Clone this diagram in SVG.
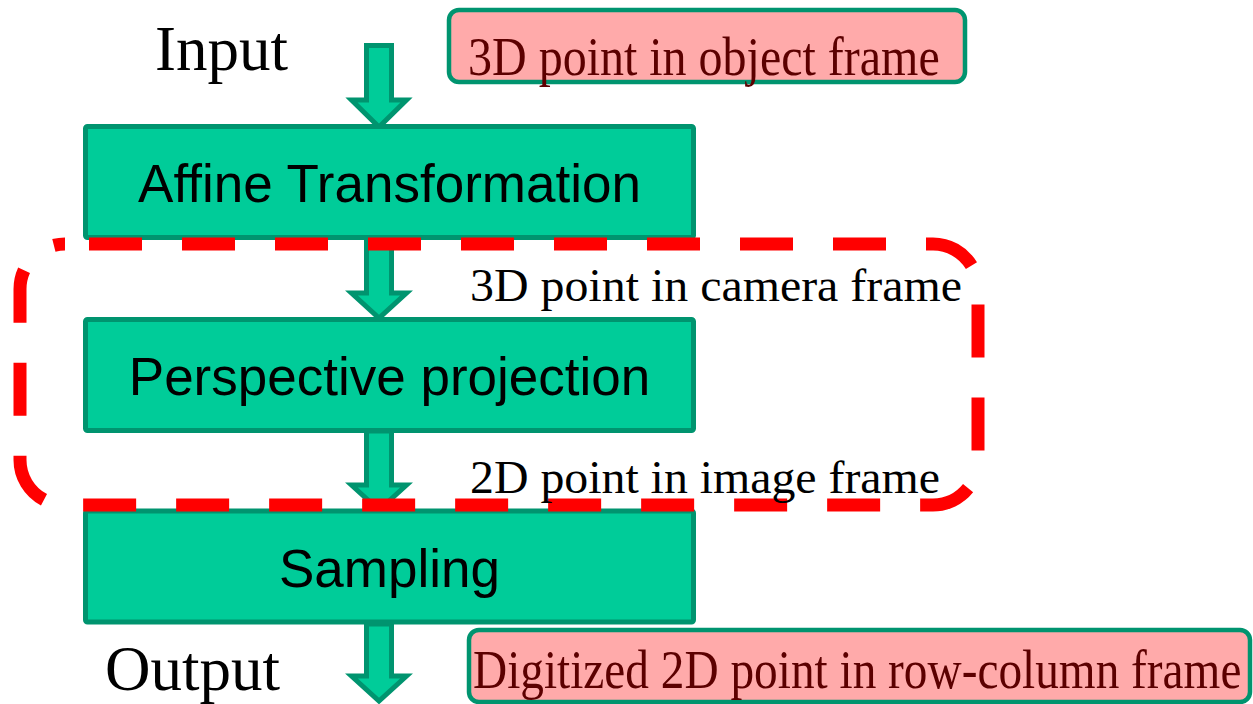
<svg xmlns="http://www.w3.org/2000/svg" width="1253" height="704" viewBox="0 0 1253 704">
  <style>
    .stage { fill: #00cc99; stroke: #00946f; stroke-width: 5; }
    .flow { fill: #00cc99; stroke: #00946f; stroke-width: 5; stroke-linejoin: miter; }
    .stage-label { font-family: "Liberation Sans", Arial, sans-serif; font-size: 53px; fill: #000; text-anchor: middle; }
    .io { font-family: "Liberation Serif", "Times New Roman", serif; font-size: 63px; fill: #000; }
    .note { fill: #ffaaaa; stroke: #00946f; stroke-width: 4.5; }
    .note-text { font-family: "Liberation Serif", "Times New Roman", serif; font-size: 56px; fill: #5c0000; }
    .frame-text { font-family: "Liberation Serif", "Times New Roman", serif; font-size: 47px; fill: #000; }
    .region { fill: none; stroke: #ff0000; stroke-width: 13; stroke-dasharray: 53 40; stroke-dashoffset: 69; }
  </style>

  <!-- block arrows between stages -->
  <g id="connectors">
    <polygon class="flow" points="366.5,45.5 391.5,45.5 391.5,100 406.5,100 379,127 351.5,100 366.5,100"/>
    <polygon class="flow" points="366.5,238 391.5,238 391.5,293 406.5,293 379,318 351.5,293 366.5,293"/>
    <polygon class="flow" points="366.5,431 391.5,431 391.5,485 406.5,485 379,510 351.5,485 366.5,485"/>
    <polygon class="flow" points="366.5,624 391.5,624 391.5,676 406.5,676 379,701 351.5,676 366.5,676"/>
  </g>

  <g id="affine">
    <rect class="stage" x="85.5" y="126.5" width="608" height="111" rx="2"/>
    <text class="stage-label" x="389.5" y="202">Affine Transformation</text>
  </g>

  <g id="perspective">
    <rect class="stage" x="85.5" y="319.5" width="608" height="111" rx="2"/>
    <text class="stage-label" x="389.5" y="395">Perspective projection</text>
  </g>

  <g id="sampling">
    <rect class="stage" x="85.5" y="511" width="608" height="111" rx="2"/>
    <text class="stage-label" x="389.5" y="587">Sampling</text>
  </g>

  <!-- camera / image frame region -->
  <g id="camera-region">
    <rect class="region" x="20" y="244" width="958" height="261" rx="45"/>
  </g>

  <g id="input">
    <text class="io" x="155" y="70">Input</text>
  </g>

  <g id="output">
    <text class="io" x="105" y="690">Output</text>
  </g>

  <!-- note labels are horizontally condensed to fit their boxes -->
  <g id="object-frame">
    <rect class="note" x="449" y="10" width="516" height="72" rx="10"/>
    <text class="note-text" transform="translate(468 75) scale(0.85 1)" x="0" y="0" textLength="555" lengthAdjust="spacingAndGlyphs">3D point in object frame</text>
  </g>

  <g id="camera-frame">
    <text class="frame-text" x="470" y="301" textLength="492" lengthAdjust="spacingAndGlyphs">3D point in camera frame</text>
  </g>

  <g id="image-frame">
    <text class="frame-text" x="470" y="493" textLength="470" lengthAdjust="spacingAndGlyphs">2D point in image frame</text>
  </g>

  <g id="row-column-frame">
    <rect class="note" x="469" y="630" width="781" height="72" rx="10"/>
    <text class="note-text" transform="translate(473 688) scale(0.85 1)" x="0" y="0" textLength="904" lengthAdjust="spacingAndGlyphs">Digitized 2D point in row-column frame</text>
  </g>
</svg>
